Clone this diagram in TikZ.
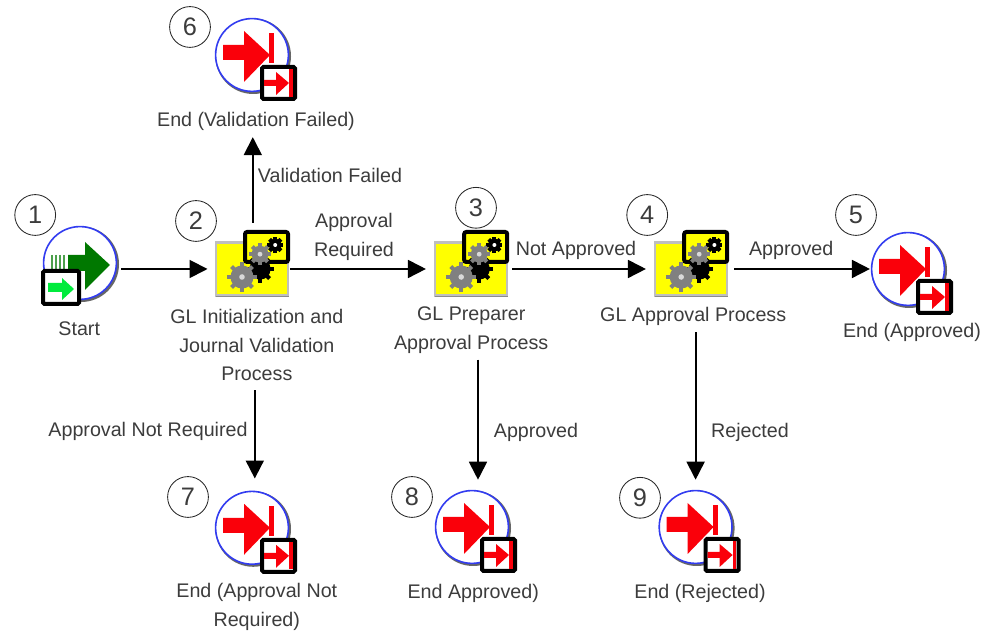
\documentclass[tikz,border=0pt]{standalone}
\usepackage{fontspec}
\setmainfont{Liberation Sans}
\usetikzlibrary{arrows.meta, positioning}
\definecolor{inkgray}{RGB}{60, 60, 60}
\definecolor{iconblue}{RGB}{50, 60, 240}
\definecolor{iconred}{RGB}{250, 0, 10}
\definecolor{tasky}{RGB}{255, 255, 0}
\definecolor{darkarrow}{RGB}{0, 120, 0}
\definecolor{lightarrow}{RGB}{0, 235, 60}
\newcommand{\cogwheel}[4]{%
  \fill[#4] (#1,#2) circle (#3*0.78);
  \foreach \a in {0,45,...,315} \draw[#4, line width=0.1cm] (#1,#2) -- ++(\a:#3);
}
\tikzset{
  iconbody/.style={minimum size=1.85cm, inner sep=0pt},
  taskbody/.style={minimum width=1.83cm, minimum height=1.35cm, inner sep=0pt},
  numtag/.style={draw=black!85, circle, line width=0.6pt, minimum size=1.02cm, inner sep=0pt, text=inkgray, font=\fontsize{18}{20}\selectfont},
  steplabel/.style={align=center, text=inkgray, font=\fontsize{14}{20.6}\selectfont},
  flowarrow/.style={-{Triangle[length=0.45cm,width=0.45cm]}, line width=0.045cm, draw=black},
  pics/startmark/.style={code={
    \draw[black!60, line width=0.07cm] (0.03,-0.03) circle (0.91cm);
    \draw[iconblue, fill=white, line width=0.04cm] (0,0) circle (0.91cm);
    \foreach \x in {-0.7,-0.6,-0.5,-0.4} \draw[darkarrow!70, line width=0.05cm] (\x,0.2) -- (\x,-0.2);
    \fill[darkarrow] (-0.3,0.2) -- (0.125,0.2) -- (0.125,0.525) -- (0.75,-0.05) -- (0.125,-0.675) -- (0.125,-0.2) -- (-0.3,-0.2) -- cycle;
    \draw[black, fill=white, line width=0.1cm, rounded corners=1pt] (-0.925,-0.2) rectangle (-0.025,-1.025);
    \fill[lightarrow] (-0.8,-0.5) -- (-0.45,-0.5) -- (-0.45,-0.375) -- (-0.15,-0.65) -- (-0.45,-0.925) -- (-0.45,-0.725) -- (-0.8,-0.725) -- cycle;
  }},
  pics/endmark/.style={code={
    \draw[black!60, line width=0.07cm] (0.03,-0.03) circle (0.91cm);
    \draw[iconblue, fill=white, line width=0.04cm] (0,0) circle (0.91cm);
    \fill[iconred] (-0.725,0.25) -- (-0.2,0.25) -- (-0.2,0.6) -- (0.45,0) -- (-0.2,-0.675) -- (-0.2,-0.125) -- (-0.725,-0.125) -- cycle;
    \fill[iconred] (0.425,0.55) rectangle (0.55,-0.2);
    \draw[black, fill=white, line width=0.1cm, rounded corners=1pt] (0.25,-0.3) rectangle (1.075,-1.1);
    \fill[iconred] (0.3,-0.625) -- (0.6,-0.625) -- (0.6,-0.425) -- (0.925,-0.7) -- (0.6,-1.0) -- (0.6,-0.775) -- (0.3,-0.775) -- cycle;
    \fill[iconred] (0.93,-0.36) rectangle (1.02,-1.04);
  }},
  pics/taskmark/.style={code={
    \draw[black!25, fill=tasky, line width=0.06cm] (-0.9,-0.66) rectangle (0.9,0.66);
    \draw[black!45, line width=0.03cm] (-0.9,-0.69) -- (0.92,-0.69);
    \draw[black, fill=tasky, line width=0.1cm, rounded corners=1.5pt] (-0.175,0.175) rectangle (0.9,0.925);
    \cogwheel{0.2}{0.0}{0.34}{black}
    \cogwheel{0.58}{0.6}{0.2}{black}
    \fill[white] (0.58,0.6) circle (0.05);
    \cogwheel{0.2}{0.37}{0.27}{black!50}
    \fill[black!15] (0.2,0.37) circle (0.06);
    \cogwheel{-0.25}{-0.2}{0.37}{black!50}
    \fill[black!15] (-0.25,-0.2) circle (0.07);
  }}
}

\begin{document}
\begin{tikzpicture}
  \useasboundingbox (0,0) rectangle (24.8,15.775);

  % Process steps
  \node[iconbody] (start) at (2.00, 9.20) {};
  \node[taskbody] (task2) at (6.30, 9.05) {};
  \node[taskbody] (task3) at (11.78, 9.05) {};
  \node[taskbody] (task4) at (17.28, 9.05) {};
  \pic at (start) {startmark};
  \pic at (task2) {taskmark};
  \pic at (task3) {taskmark};
  \pic at (task4) {taskmark};

  % End points
  \node[iconbody] (end5) at (22.70, 9.05) {};
  \node[iconbody] (end6) at (6.30, 14.40) {};
  \node[iconbody] (end7) at (6.30, 2.58) {};
  \node[iconbody] (end8) at (11.80, 2.60) {};
  \node[iconbody] (end9) at (17.39, 2.60) {};
  \pic at (end5) {endmark};
  \pic at (end6) {endmark};
  \pic at (end7) {endmark};
  \pic at (end8) {endmark};
  \pic at (end9) {endmark};

  % Step names
  \node[steplabel] (startname) at (1.98, 7.55) {Start};
  \node[steplabel] (name2) at (6.42, 7.15) {GL Initialization and\\Journal Validation\\Process};
  \node[steplabel] (name3) at (11.78, 7.525) {GL Preparer\\Approval Process};
  \node[steplabel] (name4) at (17.33, 7.875) {GL Approval Process};
  \node[steplabel] (name5) at (22.80, 7.475) {End (Approved)};
  \node[steplabel] (name6) at (6.40, 12.75) {End (Validation Failed)};
  \node[steplabel] (name7) at (6.42, 0.60) {End (Approval Not\\Required)};
  \node[steplabel] (name8) at (11.83, 0.95) {End Approved)};
  \node[steplabel] (name9) at (17.50, 0.95) {End (Rejected)};

  % Number tags
  \node[numtag] (num1) at (0.88, 10.40) {1};
  \node[numtag] (num2) at (4.90, 10.25) {2};
  \node[numtag] (num3) at (11.90, 10.58) {3};
  \node[numtag] (num4) at (16.18, 10.40) {4};
  \node[numtag] (num5) at (21.40, 10.40) {5};
  \node[numtag] (num6) at (4.75, 15.10) {6};
  \node[numtag] (num7) at (4.70, 3.35) {7};
  \node[numtag] (num8) at (10.30, 3.35) {8};
  \node[numtag] (num9) at (16.00, 3.33) {9};

  % Connectors
  \draw[flowarrow, shorten <=0.1cm, shorten >=0.19cm] (start.east |- task2.west) -- (task2.west);
  \draw[flowarrow, shorten <=0.04cm, shorten >=0.21cm] (task2.east) -- (task3.west);
  \draw[flowarrow, shorten <=0.11cm, shorten >=0.21cm] (task3.east) -- (task4.west);
  \draw[flowarrow, shorten <=0.16cm, shorten >=0.02cm] (task4.east) -- (end5.west);
  \draw[flowarrow, shorten <=0.48cm, shorten >=0.05cm] ([xshift=0.02cm]task2.north) -- ([xshift=0.02cm]task2.north |- name6.south);
  \draw[flowarrow, shorten <=0.1cm, shorten >=0.3cm] ([xshift=0.07cm]end7.north |- name2.south) -- ([xshift=0.07cm]end7.north);
  \draw[flowarrow, shorten <=0.03cm, shorten >=0.25cm] ([xshift=0.15cm]end8.north |- name3.south) -- ([xshift=0.15cm]end8.north);
  \draw[flowarrow, shorten <=0.05cm, shorten >=0.25cm] (end9.north |- name4.south) -- (end9.north);

  % Connector labels
  \node[steplabel] (lblfailed) at (8.25, 11.40) {Validation Failed};
  \node[steplabel] (lblrequired) at (8.85, 9.85) {Approval\\Required};
  \node[steplabel] (lblnot) at (14.40, 9.525) {Not Approved};
  \node[steplabel] (lblapproved) at (19.78, 9.525) {Approved};
  \node[steplabel] (lblnotreq) at (3.70, 5.00) {Approval Not Required};
  \node[steplabel] (lblprep) at (13.40, 4.975) {Approved};
  \node[steplabel] (lblrej) at (18.75, 4.975) {Rejected};
\end{tikzpicture}
\end{document}
